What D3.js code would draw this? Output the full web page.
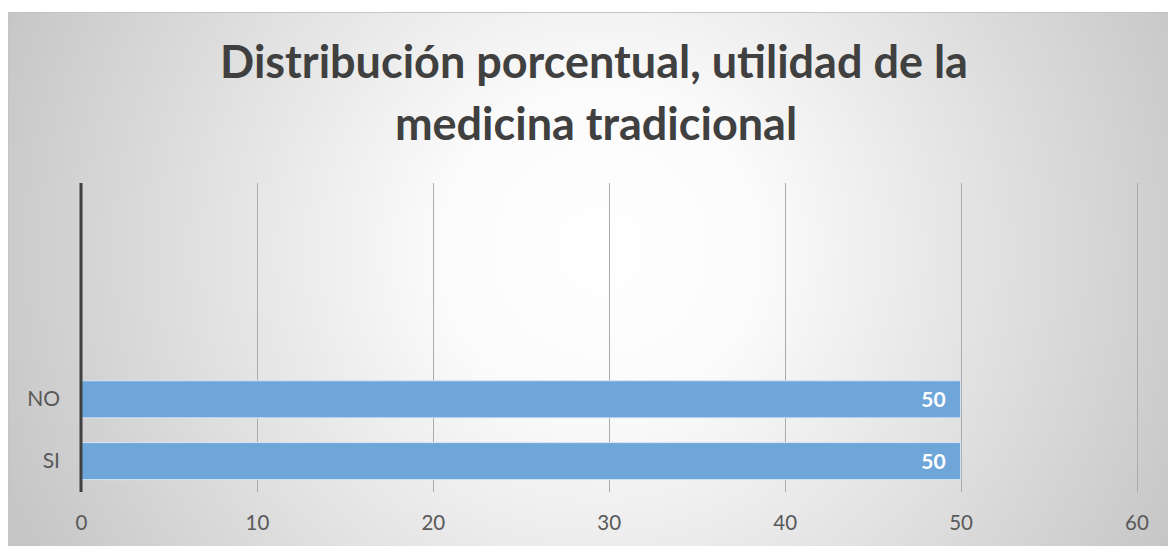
<!DOCTYPE html>
<html>
<head>
<meta charset="utf-8">
<script src="https://cdn.jsdelivr.net/npm/d3@7"></script>
<style>
  html, body { margin: 0; padding: 0; background: #ffffff; }
  svg { display: block; }
</style>
</head>
<body>
<svg id="chart" width="1168" height="546"></svg>
<script>
// Chart data
const titleLines = ["Distribución porcentual, utilidad de la", "medicina tradicional"];
const categories = ["SI", "NO", "", "", ""];
const values = [50, 50, null, null, null];
const xTicks = [0, 10, 20, 30, 40, 50, 60];

const W = 1168, H = 546;
const frame = { x: 8, y: 12, w: 1168 - 8, h: 546 - 12 };
const plot = { left: 81, right: 1136.5, top: 183, bottom: 492 };
const font = "Lato, 'Open Sans', sans-serif";

const svg = d3.select("#chart");
const defs = svg.append("defs");

// soft radial background of the chart area
const grad = defs.append("radialGradient")
  .attr("id", "bg")
  .attr("gradientUnits", "userSpaceOnUse")
  .attr("cx", 600).attr("cy", 250).attr("r", 640);
grad.append("stop").attr("offset", "0%").attr("stop-color", "#ffffff");
grad.append("stop").attr("offset", "25%").attr("stop-color", "#fbfbfb");
grad.append("stop").attr("offset", "100%").attr("stop-color", "#c6c6c6");

svg.append("rect")
  .attr("x", frame.x + 0.5).attr("y", frame.y + 0.5)
  .attr("width", frame.w).attr("height", frame.h)
  .attr("fill", "url(#bg)")
  .attr("stroke", "#c4c4c4").attr("stroke-width", 1);

// scales
const x = d3.scaleLinear().domain([0, 60]).range([plot.left, plot.right]);
const idx = d3.range(categories.length);
const y = d3.scaleBand()
  .domain(idx)
  .range([plot.bottom, plot.top])
  .paddingInner(0.4).paddingOuter(0.2);

// vertical gridlines
svg.append("g")
  .selectAll("line")
  .data(xTicks.filter(d => d > 0))
  .join("line")
  .attr("x1", d => Math.round(x(d)) + 0.5).attr("x2", d => Math.round(x(d)) + 0.5)
  .attr("y1", plot.top).attr("y2", plot.bottom)
  .attr("stroke", "#ababab").attr("stroke-width", 1);

// bars
svg.append("g")
  .selectAll("rect")
  .data(idx.filter(i => values[i] != null))
  .join("rect")
  .attr("x", x(0))
  .attr("y", i => y(i))
  .attr("width", i => x(values[i]) - x(0))
  .attr("height", y.bandwidth())
  .attr("fill", "#6fa6da")
  .attr("stroke", "#d6e6f5").attr("stroke-width", 1);

// value labels inside bar ends
svg.append("g")
  .selectAll("text")
  .data(idx.filter(i => values[i] != null))
  .join("text")
  .attr("x", i => x(values[i]) - 15)
  .attr("y", i => y(i) + y.bandwidth() / 2)
  .attr("dy", "0.36em")
  .attr("text-anchor", "end")
  .attr("font-family", font)
  .attr("font-weight", "bold")
  .attr("font-size", 21)
  .attr("fill", "#ffffff")
  .text(i => values[i]);

// x axis labels
const xAxis = d3.axisBottom(x).tickValues(xTicks).tickSize(0).tickPadding(0);
svg.append("g")
  .attr("transform", `translate(0, ${plot.bottom + 23})`)
  .call(xAxis)
  .call(g => g.select(".domain").remove())
  .call(g => g.selectAll("text")
    .attr("font-family", font)
    .attr("font-size", 20.5)
    .attr("fill", "#595959"));

// y axis: category labels and the heavy axis line
const yAxis = d3.axisLeft(y).tickFormat(i => categories[i]).tickSize(0).tickPadding(21);
svg.append("g")
  .attr("transform", `translate(${plot.left}, 0)`)
  .call(yAxis)
  .call(g => g.select(".domain").remove())
  .call(g => g.selectAll("text")
    .attr("font-family", font)
    .attr("font-size", 21)
    .attr("fill", "#595959"));

svg.append("line")
  .attr("x1", plot.left).attr("x2", plot.left)
  .attr("y1", plot.top).attr("y2", plot.bottom)
  .attr("stroke", "#404040").attr("stroke-width", 3);

// title
const title = svg.append("g")
  .attr("font-family", font)
  .attr("font-weight", "bold")
  .attr("fill", "#404040")
  .attr("text-anchor", "middle");
const t1 = title.append("text").attr("x", 594).attr("y", 78).attr("font-size", 44).text(titleLines[0]);
// scale title size so the first line spans its intended width
const w1 = t1.node().getComputedTextLength();
const fs = 44 * 748 / w1;
t1.attr("font-size", fs);
title.append("text").attr("x", 596).attr("y", 140).attr("font-size", fs).text(titleLines[1]);
</script>
</body>
</html>
